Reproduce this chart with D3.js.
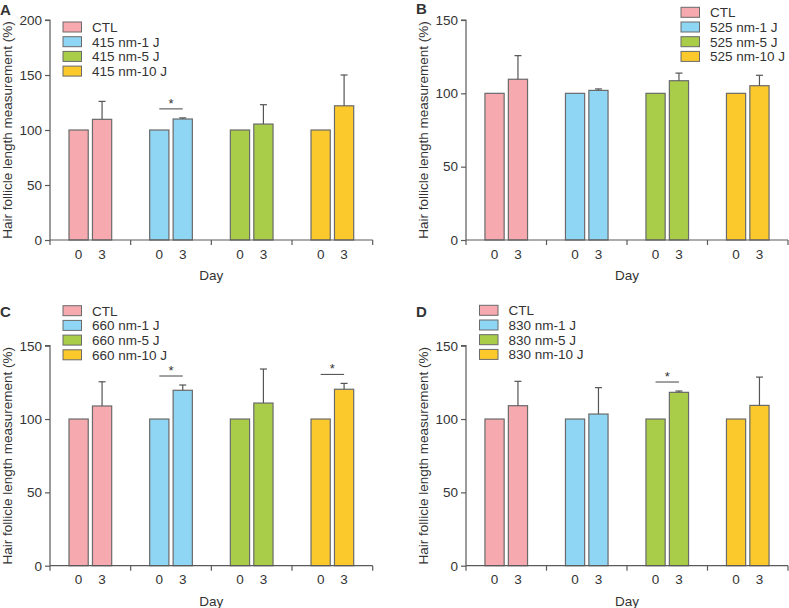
<!DOCTYPE html>
<html><head><meta charset="utf-8">
<script src="https://cdn.jsdelivr.net/npm/d3@7"></script>
<style>
body{margin:0;background:#fff;}
text{font-family:"Liberation Sans",Arial,sans-serif;fill:#333;}
</style></head><body>
<svg id="chart" width="789" height="608"></svg>
<script>
// ---- data ----
const panelLabels = ["A", "B", "C", "D"];
const wavelengths = ["415", "525", "660", "830"];
const doses = ["1 J", "5 J", "10 J"];
const days = ["0", "3"];
const yMaxes = [200, 150, 150, 150];
const day0Values = [100, 100, 100, 100];
// day-3 means per group (CTL, 1 J, 5 J, 10 J)
const day3A = [109.7, 110.0, 105.4, 122.0];
const day3B = [109.6, 102.0, 108.6, 105.2];
const day3C = [108.9, 119.6, 110.9, 120.3];
const day3D = [109.1, 103.4, 118.2, 109.3];
// top of error bar on day 3
const errTopA = [126.0, 111.0, 123.0, 150.0];
const errTopB = [125.7, 103.0, 113.8, 112.3];
const errTopC = [125.4, 123.2, 134.1, 124.3];
const errTopD = [125.7, 121.4, 119.1, 128.6];
// groups with significance star
const sigA = [1];
const sigB = [];
const sigC = [1, 3];
const sigD = [2];

const day3All = [day3A, day3B, day3C, day3D];
const errAll = [errTopA, errTopB, errTopC, errTopD];
const sigAll = [sigA, sigB, sigC, sigD];
const colors = ["#f6a9ae", "#8ed6f3", "#a9cd49", "#fcc92d"];

const svg = d3.select("#chart");
// layout (positions only)
const frames = [
  {l: 50, r: 372.7, t: 20, b: 240, legX: 63, legY: 27, labX: 0, labY: 15},
  {l: 466, r: 788, t: 20, b: 240, legX: 681, legY: 12.3, labX: 416, labY: 14},
  {l: 50, r: 372.7, t: 345.7, b: 565.7, legX: 63, legY: 310.7, labX: 0, labY: 317},
  {l: 466, r: 788, t: 345.7, b: 565.7, legX: 479.5, legY: 310.3, labX: 416, labY: 317}
];
const axisColor = "#5a5a5a";
const fs = 13.5;

frames.forEach((f, p) => {
  const g = svg.append("g");
  const groupNames = ["CTL"].concat(doses.map(d => wavelengths[p] + " nm-" + d));
  const x = d3.scaleBand().domain(groupNames).range([f.l, f.r]).padding(0);
  const bw = x.bandwidth();
  const xi = d3.scaleBand().domain(days).range([bw * 0.2355, bw * 0.7646]).paddingInner(0.18);
  const y = d3.scaleLinear().domain([0, yMaxes[p]]).range([f.b, f.t]);

  // bars
  groupNames.forEach((gn, gi) => {
    const vals = [day0Values[gi], day3All[p][gi]];
    days.forEach((d, di) => {
      g.append("rect")
        .attr("x", x(gn) + xi(d))
        .attr("y", y(vals[di]))
        .attr("width", xi.bandwidth())
        .attr("height", y(0) - y(vals[di]))
        .attr("fill", colors[gi])
        .attr("stroke", "#6a6a6a")
        .attr("stroke-width", 1.2);
      g.append("text")
        .attr("x", x(gn) + xi(d) + xi.bandwidth() / 2)
        .attr("y", f.b + 18.5)
        .attr("text-anchor", "middle")
        .attr("font-size", fs)
        .text(d);
    });
    // error bar for day 3
    const cx = x(gn) + xi("3") + xi.bandwidth() / 2;
    const et = errAll[p][gi];
    g.append("line").attr("x1", cx).attr("x2", cx)
      .attr("y1", y(vals[1])).attr("y2", y(et))
      .attr("stroke", "#555").attr("stroke-width", 1.2);
    g.append("line").attr("x1", cx - 3.5).attr("x2", cx + 3.5)
      .attr("y1", y(et)).attr("y2", y(et))
      .attr("stroke", "#555").attr("stroke-width", 1.2);
    // significance
    if (sigAll[p].includes(gi)) {
      const x0 = x(gn) + xi("0") + xi.bandwidth() / 2;
      const ly = y(et) - 9;
      g.append("line").attr("x1", x0).attr("x2", cx)
        .attr("y1", ly).attr("y2", ly)
        .attr("stroke", "#444").attr("stroke-width", 1);
      g.append("text").attr("x", (x0 + cx) / 2).attr("y", ly - 1)
        .attr("text-anchor", "middle").attr("font-size", 13).text("*");
    }
  });

  // y axis
  const ya = d3.axisLeft(y).tickValues(d3.range(0, yMaxes[p] + 1, 50)).tickSize(5).tickPadding(3);
  const yg = g.append("g").attr("transform", `translate(${f.l},0)`).call(ya);
  yg.selectAll("path,line").attr("stroke", axisColor).attr("stroke-width", 1.2);
  yg.selectAll("text").attr("font-size", fs).attr("fill", "#333")
    .attr("font-family", '"Liberation Sans",Arial,sans-serif');
  yg.select(".domain").attr("d", `M-5,${y(yMaxes[p])}H0V${f.b}`);

  // x axis with group separators
  const sepVals = groupNames.map(gn => x(gn)).concat([f.r]);
  g.append("line").attr("x1", f.l).attr("x2", f.r).attr("y1", f.b).attr("y2", f.b)
    .attr("stroke", axisColor).attr("stroke-width", 1.2);
  g.selectAll(".sep").data(sepVals).enter().append("line")
    .attr("x1", d => d).attr("x2", d => d)
    .attr("y1", f.b).attr("y2", f.b + 5)
    .attr("stroke", axisColor).attr("stroke-width", 1.2);

  // axis titles
  g.append("text").attr("x", (f.l + f.r) / 2).attr("y", f.b + 40)
    .attr("text-anchor", "middle").attr("font-size", fs).text("Day");
  g.append("text")
    .attr("transform", `translate(${f.l - 38},${(f.t + f.b) / 2}) rotate(-90)`)
    .attr("text-anchor", "middle").attr("font-size", fs)
    .text("Hair follicle length measurement (%)");

  // panel label
  g.append("text").attr("x", f.labX).attr("y", f.labY)
    .attr("font-size", 15).attr("font-weight", "bold").attr("fill", "#222")
    .text(panelLabels[p]);

  // legend
  groupNames.forEach((gn, gi) => {
    const yy = f.legY + gi * 14.7;
    g.append("rect").attr("x", f.legX).attr("y", yy - 5)
      .attr("width", 18.5).attr("height", 10)
      .attr("fill", colors[gi]).attr("stroke", "#6a6a6a").attr("stroke-width", 1);
    g.append("text").attr("x", f.legX + 29).attr("y", yy + 4.8)
      .attr("font-size", fs).text(gn);
  });
});
</script></body></html>
